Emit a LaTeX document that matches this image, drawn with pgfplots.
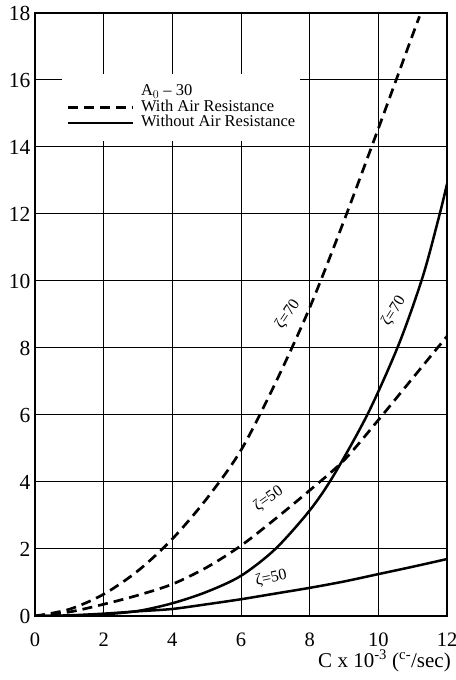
\documentclass[border=0pt]{standalone}
\usepackage{pgfplots}
\pgfplotsset{compat=1.18}
\usepackage{fontspec}
\setmainfont{Liberation Serif}

\pgfplotstableread{
x y
0 0
1 0.2
2 0.65
3 1.35
4 2.3
5 3.5
6 4.95
7 6.95
8 9.2
9 11.8
10 14.55
11 17.35
11.2 17.9
}\dashseventy
\pgfplotstableread{
x y
0 0
1 0.12
2 0.35
3 0.62
4 0.95
5 1.45
6 2.1
7 2.9
8 3.75
9 4.65
10 5.85
11 7.1
12 8.35
}\dashfifty
\pgfplotstableread{
x y
0 0
1 0.01
2 0.05
3 0.15
4 0.38
5 0.72
6 1.2
7 2.0
8 3.15
8.7 4.2
9.7 6.05
10.6 8.12
11.3 10.15
11.8 12.05
12 12.9
}\solidseventy
\pgfplotstableread{
x y
0 0
1 0.02
2 0.07
3 0.14
4 0.21
5 0.35
6 0.5
7 0.67
8 0.84
9 1.03
10 1.25
11 1.47
12 1.7
}\solidfifty

\begin{document}
\begin{tikzpicture}
\begin{axis}[
  scale only axis, width=412pt, height=603pt,
  xmin=0, xmax=12, ymin=0, ymax=18,
  xtick={0,2,...,12}, ytick={0,2,...,18},
  grid=major, major grid style={black, line width=1pt},
  axis line style={black, line width=1.4pt},
  tick style={draw=none},
  /pgf/number format/assume math mode=true,
  xticklabel style={font=\fontsize{20.5}{20.5}\selectfont, yshift=-13pt},
  yticklabel style={font=\fontsize{21.5}{21.5}\selectfont, xshift=-1pt},
  legend style={at={(axis cs:0.79,16.18)}, anchor=north west, draw=none, fill=white,
    inner xsep=4pt, inner ysep=10pt, font=\fontsize{16.5}{16.5}\selectfont,
    cells={anchor=west}, row sep=0pt, column sep=6pt,
    nodes={inner sep=1pt, text height=10.5pt, text depth=3pt}},
  legend image code/.code={\draw[#1] (0pt,0pt) -- (65pt,0pt);},
  dashstyle/.style={black, line width=2.7pt, dash pattern=on 10pt off 6pt},
  solidstyle/.style={black, line width=2.5pt},
]
\addlegendimage{empty legend}
\addlegendentry{A$_0$ -- 30}
\addlegendimage{dashstyle}
\addlegendentry{With Air Resistance}
\addlegendimage{solidstyle}
\addlegendentry{Without Air Resistance}

\addplot[dashstyle, smooth, forget plot] table[x=x,y=y] {\dashseventy};
\addplot[dashstyle, smooth, forget plot] table[x=x,y=y] {\dashfifty};
\addplot[solidstyle, smooth, forget plot] table[x=x,y=y] {\solidseventy};
\addplot[solidstyle, smooth, forget plot] table[x=x,y=y] {\solidfifty};

\node[rotate=56, font=\fontsize{16}{16}\selectfont, inner sep=0pt] at (axis cs:7.36,9.0) {ζ=70};
\node[rotate=58, font=\fontsize{16}{16}\selectfont, inner sep=0pt] at (axis cs:10.45,9.1) {ζ=70};
\node[rotate=35, font=\fontsize{16}{16}\selectfont, inner sep=0pt] at (axis cs:6.8,3.5) {ζ=50};
\node[rotate=12, font=\fontsize{16}{16}\selectfont, inner sep=0pt] at (axis cs:6.88,1.13) {ζ=50};
\end{axis}
\node[anchor=base east, font=\fontsize{21}{21}\selectfont, inner sep=0pt] at ([xshift=4pt,yshift=-51pt]current axis.south east) {C x 10\textsuperscript{-3} (\textsuperscript{c-}/sec)};
\pgfresetboundingbox
\path[use as bounding box] ([xshift=-35pt,yshift=-64pt]current axis.south west) rectangle ([xshift=9pt,yshift=13pt]current axis.north east);
\end{tikzpicture}
\end{document}
